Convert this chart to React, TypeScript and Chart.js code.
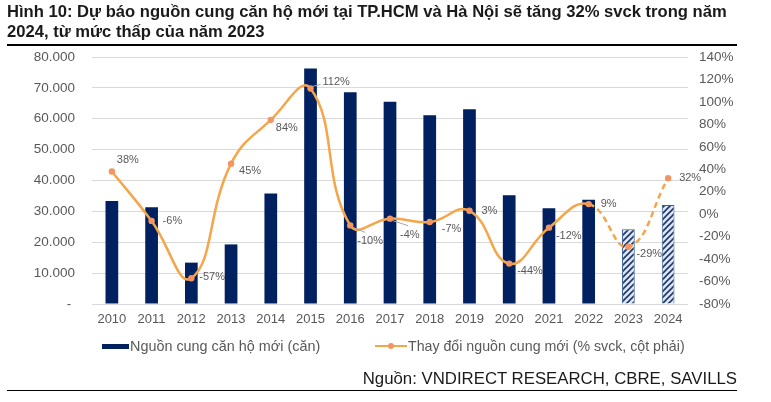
import React, { useEffect, useRef } from 'react';
import { Chart, registerables } from 'chart.js';

Chart.register(...registerables);

// ---------- data ----------
const years = ['2010', '2011', '2012', '2013', '2014', '2015', '2016', '2017', '2018', '2019', '2020', '2021', '2022', '2023', '2024'];
const newSupply = [33400, 31300, 13400, 19300, 35800, 76300, 68600, 65500, 61100, 63100, 35200, 31000, 33800, 24200, 32100];
const yoyChange = [38, -6, -57, 45, 84, 112, -10, -4, -7, 3, -44, -12, 9, -29, 32];
const firstForecastIndex = 13; // 2023, 2024 are forecasts (hatched bars, dashed line)
const leftAxisMax = 80000;
const leftAxisStep = 10000;
const rightAxisMin = -80;
const rightAxisMax = 140;
const rightAxisStep = 20;

const barLegend = 'Nguồn cung căn hộ mới (căn)';
const lineLegend = 'Thay đổi nguồn cung mới (% svck, cột phải)';
const titleLine1 = 'Hình 10: Dự báo nguồn cung căn hộ mới tại TP.HCM và Hà Nội sẽ tăng 32% svck trong năm';
const titleLine2 = '2024, từ mức thấp của năm 2023';
const sourceText = 'Nguồn: VNDIRECT RESEARCH, CBRE, SAVILLS';

// ---------- styles ----------
const FONT = "'Liberation Sans', Arial, Helvetica, sans-serif";
const NAVY = '#002060';
const LINE_ORANGE = '#F5A54A';
const POINT_ORANGE = '#F39561';
const TEXT_GREY = '#595959';
const GRID_GREY = '#D9D9D9';
// data label offsets (dx, dy) in px relative to each point
const labelOffsets: [number, number][] = [
  [5, -12], [11, 0], [8, -1], [8, 7], [5, 8], [12, -6], [7, 16], [10, 16],
  [12, 7], [12, 0], [8, 7], [7, 8], [12, 0], [8, 7], [11, 0],
];
const leaderIdx = [5, 6, 7];

function formatThousands(v: number): string {
  if (v === 0) return '- ';
  return String(v).replace(/\B(?=(\d{3})+(?!\d))/g, '.');
}

function makeHatch(): CanvasPattern | string {
  const s = 6;
  const pc = document.createElement('canvas');
  pc.width = s;
  pc.height = s;
  const g = pc.getContext('2d');
  if (!g) return '#8FA6D0';
  g.fillStyle = '#DCE5F4';
  g.fillRect(0, 0, s, s);
  g.strokeStyle = '#1F3864';
  g.lineWidth = 1.6;
  g.beginPath();
  g.moveTo(-1, 1); g.lineTo(1, -1);
  g.moveTo(0, s); g.lineTo(s, 0);
  g.moveTo(s - 1, s + 1); g.lineTo(s + 1, s - 1);
  g.stroke();
  const p = g.createPattern(pc, 'repeat');
  return p || '#8FA6D0';
}

const labelPlugin = {
  id: 'pctLabels',
  afterDatasetsDraw(chart: any) {
    const meta = chart.getDatasetMeta(0);
    const ctx = chart.ctx;
    ctx.save();
    ctx.font = `11px ${FONT}`;
    ctx.fillStyle = TEXT_GREY;
    ctx.textAlign = 'left';
    ctx.textBaseline = 'middle';
    meta.data.forEach((pt: any, i: number) => {
      const [dx, dy] = labelOffsets[i];
      if (leaderIdx.includes(i)) {
        ctx.strokeStyle = '#A6A6A6';
        ctx.lineWidth = 1;
        ctx.beginPath();
        if (dy < 0) {
          ctx.moveTo(pt.x + 2, pt.y - 2);
          ctx.lineTo(pt.x + dx - 2, pt.y + dy + 2);
        } else {
          ctx.moveTo(pt.x + 3, pt.y + 2);
          ctx.lineTo(pt.x + dx + 8, pt.y + dy - 9);
        }
        ctx.stroke();
      }
      ctx.fillText(`${yoyChange[i]}%`, pt.x + dx, pt.y + dy);
    });
    ctx.restore();
  },
};

export default function App() {
  const canvasRef = useRef<HTMLCanvasElement | null>(null);

  useEffect(() => {
    const canvas = canvasRef.current;
    if (!canvas) return;
    const hatch = makeHatch();
    const chart = new Chart(canvas, {
      type: 'bar',
      data: {
        labels: years,
        datasets: [
          {
            type: 'line',
            label: lineLegend,
            data: yoyChange,
            yAxisID: 'y1',
            borderColor: LINE_ORANGE,
            borderWidth: 2.5,
            tension: 0.45,
            pointRadius: 3.2,
            pointBackgroundColor: POINT_ORANGE,
            pointBorderWidth: 0,
            segment: {
              borderDash: (c: any) => (c.p1DataIndex >= firstForecastIndex ? [6, 4] : undefined),
            },
            order: 0,
          } as any,
          {
            type: 'bar',
            label: barLegend,
            data: newSupply,
            yAxisID: 'y',
            backgroundColor: newSupply.map((_, i) => (i >= firstForecastIndex ? hatch : NAVY)),
            borderColor: newSupply.map((_, i) => (i >= firstForecastIndex ? '#3A5A96' : NAVY)),
            borderWidth: newSupply.map((_, i) => (i >= firstForecastIndex ? 1 : 0)),
            barPercentage: 0.32,
            categoryPercentage: 1,
            order: 1,
          } as any,
        ],
      },
      options: {
        animation: false,
        responsive: false,
        devicePixelRatio: 1,
        layout: { padding: { top: 57, bottom: 72, left: 0, right: 0 } },
        plugins: { legend: { display: false }, tooltip: { enabled: false } },
        scales: {
          x: {
            grid: { display: false, drawTicks: false },
            border: { display: false },
            ticks: { color: TEXT_GREY, font: { family: FONT, size: 13 }, padding: 8, maxRotation: 0, autoSkip: false },
            afterFit: (s: any) => { s.height = 26; },
          },
          y: {
            position: 'left',
            min: 0,
            max: leftAxisMax,
            grid: { color: GRID_GREY, drawTicks: false, lineWidth: 1 },
            border: { display: false },
            ticks: {
              stepSize: leftAxisStep,
              color: TEXT_GREY,
              font: { family: FONT, size: 13.5 },
              padding: 17,
              callback: (v: any) => formatThousands(Number(v)),
            },
            afterFit: (s: any) => { s.width = 92; },
          },
          y1: {
            position: 'right',
            min: rightAxisMin,
            max: rightAxisMax,
            grid: { display: false, drawTicks: false },
            border: { display: false },
            ticks: {
              stepSize: rightAxisStep,
              color: TEXT_GREY,
              font: { family: FONT, size: 13.5 },
              padding: 11,
              callback: (v: any) => `${v}%`,
            },
            afterFit: (s: any) => { s.width = 83; },
          },
        },
      } as any,
      plugins: [labelPlugin],
    });
    return () => chart.destroy();
  }, []);

  return (
    <div style={{ position: 'absolute', left: 0, top: 0, width: 771, height: 402, background: '#fff', overflow: 'hidden', fontFamily: FONT }}>
      <canvas ref={canvasRef} width={771} height={402} style={{ position: 'absolute', left: 0, top: 0, width: 771, height: 402 }} />
      <div style={{ position: 'absolute', left: 7, top: 2, fontSize: 16.6, lineHeight: '19.5px', fontWeight: 'bold', color: '#1A1A1A', whiteSpace: 'nowrap' }}>
        <div>{titleLine1}</div>
        <div>{titleLine2}</div>
      </div>
      <div style={{ position: 'absolute', left: 7, top: 44, width: 730, height: 2, background: '#000' }} />
      {/* legend */}
      <div style={{ position: 'absolute', left: 102, top: 344, width: 27, height: 5, background: NAVY }} />
      <div style={{ position: 'absolute', left: 130, top: 338, fontSize: 14.4, lineHeight: '17px', color: TEXT_GREY, whiteSpace: 'nowrap' }}>{barLegend}</div>
      <div style={{ position: 'absolute', left: 375, top: 345, width: 32, height: 2, background: LINE_ORANGE }} />
      <div style={{ position: 'absolute', left: 388, top: 343, width: 6, height: 6, borderRadius: 3, background: POINT_ORANGE }} />
      <div style={{ position: 'absolute', left: 408, top: 338, fontSize: 14.2, lineHeight: '17px', color: TEXT_GREY, whiteSpace: 'nowrap' }}>{lineLegend}</div>
      {/* source */}
      <div style={{ position: 'absolute', left: 300, top: 369, width: 437, textAlign: 'right', fontSize: 16.8, lineHeight: '20px', color: '#1A1A1A', whiteSpace: 'nowrap' }}>{sourceText}</div>
      <div style={{ position: 'absolute', left: 7, top: 390, width: 730, height: 1, background: '#000' }} />
    </div>
  );
}
